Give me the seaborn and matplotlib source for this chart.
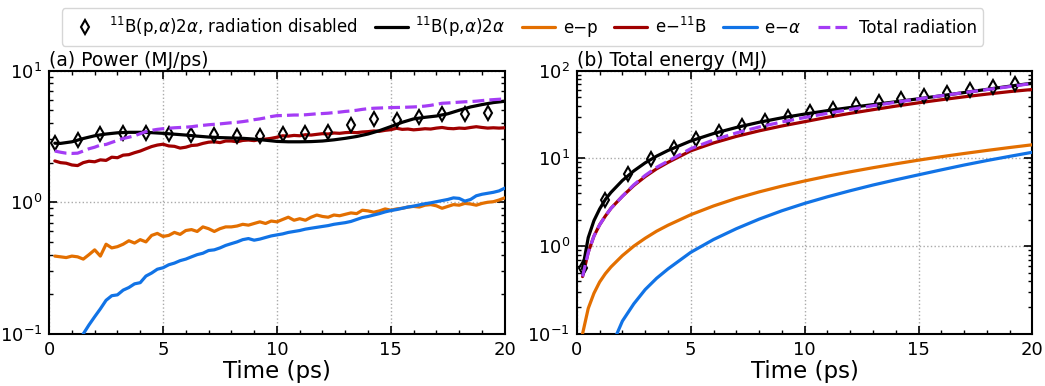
import numpy as np
import pandas as pd
import matplotlib
matplotlib.use("Agg")
import matplotlib.pyplot as plt
from matplotlib.ticker import MultipleLocator, LogLocator, NullFormatter
import seaborn as sns

# ---------------- data: panel (a) power (MJ/ps) ----------------
t_noisy = [0.25, 0.5, 0.75, 1.0, 1.25, 1.5, 1.75, 2.0, 2.25, 2.5, 2.75, 3.0, 3.25, 3.5, 3.75, 4.0,
           4.25, 4.5, 4.75, 5.0, 5.25, 5.5, 5.75, 6.0, 6.25, 6.5, 6.75, 7.0, 7.25, 7.5, 7.75, 8.0,
           8.25, 8.5, 8.75, 9.0, 9.25, 9.5, 9.75, 10.0, 10.25, 10.5, 10.75, 11.0, 11.25, 11.5, 11.75, 12.0,
           12.25, 12.5, 12.75, 13.0, 13.25, 13.5, 13.75, 14.0, 14.25, 14.5, 14.75, 15.0, 15.25, 15.5, 15.75, 16.0,
           16.25, 16.5, 16.75, 17.0, 17.25, 17.5, 17.75, 18.0, 18.25, 18.5, 18.75, 19.0, 19.25, 19.5, 19.75, 20.0]

power_ep = [0.39, 0.385, 0.38, 0.39, 0.385, 0.37, 0.40, 0.435, 0.39, 0.48, 0.45, 0.46, 0.48, 0.51, 0.49, 0.52,
            0.50, 0.56, 0.58, 0.55, 0.56, 0.59, 0.57, 0.61, 0.62, 0.60, 0.65, 0.63, 0.60, 0.63, 0.65, 0.65,
            0.66, 0.68, 0.67, 0.69, 0.71, 0.69, 0.72, 0.71, 0.74, 0.77, 0.73, 0.75, 0.73, 0.77, 0.80, 0.78,
            0.77, 0.80, 0.79, 0.81, 0.83, 0.82, 0.87, 0.86, 0.84, 0.86, 0.89, 0.87, 0.89, 0.90, 0.92, 0.93,
            0.92, 0.95, 0.96, 0.94, 0.90, 0.93, 0.96, 0.95, 0.98, 0.97, 0.95, 0.98, 1.00, 1.01, 1.04, 1.08]

power_eB = [2.06, 2.00, 1.98, 1.92, 1.90, 2.00, 2.05, 2.03, 2.10, 2.08, 2.20, 2.18, 2.28, 2.30, 2.38, 2.45,
            2.55, 2.65, 2.72, 2.76, 2.68, 2.66, 2.58, 2.62, 2.70, 2.72, 2.80, 2.86, 2.88, 2.84, 2.92, 2.92,
            2.88, 2.95, 2.97, 2.94, 3.00, 3.02, 3.06, 3.12, 3.20, 3.18, 3.22, 3.20, 3.26, 3.24, 3.28, 3.32,
            3.30, 3.36, 3.34, 3.38, 3.40, 3.38, 3.42, 3.44, 3.48, 3.46, 3.52, 3.56, 3.65, 3.58, 3.60, 3.55,
            3.58, 3.62, 3.60, 3.66, 3.70, 3.64, 3.62, 3.66, 3.64, 3.70, 3.75, 3.70, 3.66, 3.68, 3.66, 3.68]

power_ea = [0.012, 0.018, 0.026, 0.04, 0.07, 0.10, 0.117, 0.135, 0.155, 0.18, 0.195, 0.198, 0.215, 0.225, 0.24, 0.245,
            0.275, 0.29, 0.31, 0.318, 0.335, 0.345, 0.36, 0.37, 0.385, 0.40, 0.41, 0.43, 0.435, 0.45, 0.47, 0.485,
            0.50, 0.52, 0.53, 0.515, 0.525, 0.54, 0.555, 0.565, 0.575, 0.59, 0.60, 0.61, 0.625, 0.635, 0.645, 0.655,
            0.665, 0.68, 0.69, 0.70, 0.715, 0.74, 0.765, 0.78, 0.80, 0.82, 0.845, 0.865, 0.88, 0.90, 0.92, 0.935,
            0.955, 0.975, 0.99, 1.01, 1.03, 1.05, 1.08, 1.07, 1.02, 1.05, 1.12, 1.15, 1.17, 1.19, 1.22, 1.28]

power_rad = [2.45, 2.40, 2.36, 2.35, 2.36, 2.45, 2.55, 2.62, 2.72, 2.75, 2.85, 2.95, 3.05, 3.12, 3.20, 3.32,
             3.44, 3.52, 3.58, 3.62, 3.65, 3.68, 3.70, 3.72, 3.75, 3.80, 3.84, 3.88, 3.91, 3.94, 3.98, 4.02,
             4.05, 4.10, 4.16, 4.24, 4.30, 4.38, 4.48, 4.55, 4.56, 4.58, 4.60, 4.60, 4.62, 4.66, 4.70, 4.72,
             4.75, 4.80, 4.84, 4.90, 4.94, 5.00, 5.08, 5.14, 5.18, 5.20, 5.22, 5.24, 5.25, 5.26, 5.28, 5.30,
             5.33, 5.38, 5.45, 5.55, 5.65, 5.68, 5.72, 5.76, 5.80, 5.82, 5.86, 5.92, 5.98, 6.02, 6.06, 6.10]

t_fus_a = [0.25, 0.5, 1.0, 1.5, 2.0, 2.5, 3.0, 3.5, 4.0, 4.5, 5.0, 5.5, 6.0, 6.5, 7.0, 7.5, 8.0, 8.5, 9.0, 9.5,
           10.0, 10.5, 11.0, 11.5, 12.0, 12.5, 13.0, 13.5, 14.0, 14.5, 15.0, 15.5, 16.0, 16.5, 17.0, 17.5,
           18.0, 18.5, 19.0, 19.5, 20.0]
power_fus = [2.81, 2.80, 2.88, 3.05, 3.20, 3.30, 3.37, 3.40, 3.40, 3.38, 3.34, 3.29, 3.24, 3.18, 3.13, 3.10,
             3.08, 3.06, 3.02, 2.96, 2.90, 2.88, 2.88, 2.89, 2.92, 2.98, 3.06, 3.16, 3.30, 3.50, 3.76, 4.05,
             4.30, 4.42, 4.52, 4.70, 5.00, 5.30, 5.52, 5.72, 5.85]

t_marker = [0.25, 1.25, 2.25, 3.25, 4.25, 5.25, 6.25, 7.25, 8.25, 9.25, 10.25, 11.25, 12.25, 13.25,
            14.25, 15.25, 16.25, 17.25, 18.25, 19.25]
power_norad = [2.81, 2.97, 3.31, 3.38, 3.35, 3.31, 3.25, 3.25, 3.21, 3.21, 3.28, 3.35, 3.44, 3.87,
               4.30, 4.22, 4.42, 4.69, 4.66, 4.75]

# ---------------- data: panel (b) total energy (MJ) ----------------
t_energy = [0.25, 0.5, 0.75, 1.0, 1.25, 1.5, 2.0, 2.5, 3.0, 3.5, 4.0, 5.0, 6.0, 7.0, 8.0, 9.0, 10.0,
            11.0, 12.0, 13.0, 14.0, 15.0, 16.0, 17.0, 18.0, 19.0, 20.0]
energy_fus = [0.55, 1.25, 1.95, 2.65, 3.4, 4.1, 5.6, 7.2, 8.9, 10.6, 12.3, 15.8, 19.2, 22.5, 25.8, 29.0, 32.0,
              35.0, 38.0, 41.0, 44.2, 47.8, 51.8, 56.3, 61.2, 66.5, 72.0]
energy_ep = [0.10, 0.195, 0.29, 0.39, 0.485, 0.58, 0.78, 1.0, 1.23, 1.48, 1.73, 2.28, 2.87, 3.50, 4.15, 4.83,
             5.53, 6.27, 7.03, 7.83, 8.67, 9.55, 10.45, 11.37, 12.32, 13.3, 14.3]
energy_eB = [0.45, 0.85, 1.3, 1.75, 2.2, 2.7, 3.7, 4.9, 6.2, 7.6, 9.0, 12.2, 15.0, 17.8, 20.6, 23.4, 26.2,
             29.4, 32.6, 35.9, 39.4, 43.0, 46.6, 50.3, 54.0, 57.7, 61.0]
energy_ea = [0.004, 0.009, 0.017, 0.028, 0.045, 0.07, 0.14, 0.22, 0.32, 0.43, 0.55, 0.85, 1.19, 1.58, 2.03,
             2.53, 3.07, 3.65, 4.28, 4.97, 5.7, 6.5, 7.4, 8.4, 9.45, 10.55, 11.75]
energy_rad = [0.45, 0.85, 1.3, 1.75, 2.2, 2.7, 3.7, 5.0, 6.4, 7.9, 9.3, 12.9, 16.2, 19.5, 22.8, 26.0, 29.2,
              32.6, 36.1, 39.8, 43.6, 47.6, 51.8, 56.2, 60.8, 65.8, 71.5]
energy_norad = [0.56, 3.4, 6.6, 9.8, 13.3, 16.6, 20.1, 23.4, 26.8, 30.0, 33.4, 36.8, 40.8, 44.0,
                47.5, 51.5, 56.0, 60.5, 65.5, 71.0]

labels = [r"$^{11}$B(p,$\alpha$)2$\alpha$, radiation disabled",
          r"$^{11}$B(p,$\alpha$)2$\alpha$",
          "e\u2212p",
          r"e$-^{11}$B",
          r"e$-\alpha$",
          "Total radiation"]
colors = ["black", "black", "#e36f00", "#a00000", "#1173e6", "#a43cf5"]

# ---------------- style ----------------
sns.set_style("white")
plt.rcParams["font.family"] = ["DejaVu Sans"]
plt.rcParams["mathtext.fontset"] = "dejavusans"
plt.rcParams["axes.linewidth"] = 1.5
for key in ("text.color", "axes.labelcolor", "xtick.color", "ytick.color", "axes.edgecolor"):
    plt.rcParams[key] = "black"

fig = plt.figure(figsize=(10.45, 3.86), dpi=100)
ax1 = fig.add_axes([0.047, 0.135, 0.436, 0.682])
ax2 = fig.add_axes([0.552, 0.135, 0.436, 0.682])

LW = 2.3


def draw(ax, tm, ym, tf, yf, t_s, series):
    sns.lineplot(x=tm, y=ym, ax=ax, marker="d", linestyle="", markersize=7.5,
                 markerfacecolor="none", markeredgecolor="black", markeredgewidth=1.5,
                 label=labels[0], zorder=6)
    sns.lineplot(x=tf, y=yf, ax=ax, color=colors[1], lw=LW, label=labels[1], zorder=5)
    for i, ys in enumerate(series):
        ls = "--" if i == 3 else "-"
        sns.lineplot(x=t_s, y=ys, ax=ax, color=colors[2 + i], lw=LW, linestyle=ls,
                     label=labels[2 + i], zorder=4 if i < 3 else 7)


draw(ax1, t_marker, power_norad, t_fus_a, power_fus, t_noisy,
     [power_ep, power_eB, power_ea, power_rad])
draw(ax2, t_marker, energy_norad, t_energy, energy_fus, t_energy,
     [energy_ep, energy_eB, energy_ea, energy_rad])

handles, labs = ax1.get_legend_handles_labels()
for ax in (ax1, ax2):
    if ax.get_legend() is not None:
        ax.get_legend().remove()

for ax, ylim, title in ((ax1, (0.1, 10), "(a) Power (MJ/ps)"),
                        (ax2, (0.1, 100), "(b) Total energy (MJ)")):
    ax.set_yscale("log")
    ax.set_xlim(0, 20)
    ax.set_ylim(*ylim)
    ax.xaxis.set_major_locator(MultipleLocator(5))
    ax.xaxis.set_minor_locator(MultipleLocator(1))
    ax.yaxis.set_major_locator(LogLocator(base=10, numticks=10))
    ax.yaxis.set_minor_locator(LogLocator(base=10, subs=np.arange(2, 10), numticks=10))
    ax.yaxis.set_minor_formatter(NullFormatter())
    ax.tick_params(which="both", direction="in", top=True, right=True, bottom=True, left=True,
                   labelsize=13, colors="black")
    ax.tick_params(which="major", length=6, width=1.2, pad=5)
    ax.tick_params(which="minor", length=3, width=1.0)
    ax.grid(True, which="major", linestyle=":", color="#aaaaaa", linewidth=1.0)
    ax.set_axisbelow(True)
    for sp in ax.spines.values():
        sp.set_linewidth(1.5)
        sp.set_color("black")
    ax.set_xlabel("Time (ps)", fontsize=16.5, labelpad=1, color="black")
    ax.set_ylabel("")
    ax.set_title(title, loc="left", fontsize=13.5, pad=3, color="black")

fig.legend(handles, labs, loc="upper center", bbox_to_anchor=(0.5, 1.0), ncol=6,
           fontsize=12, frameon=True, fancybox=True, edgecolor="#cccccc",
           handlelength=2.0, handletextpad=0.45, columnspacing=1.0, borderpad=0.4)

fig.savefig("out.png", dpi=100)
